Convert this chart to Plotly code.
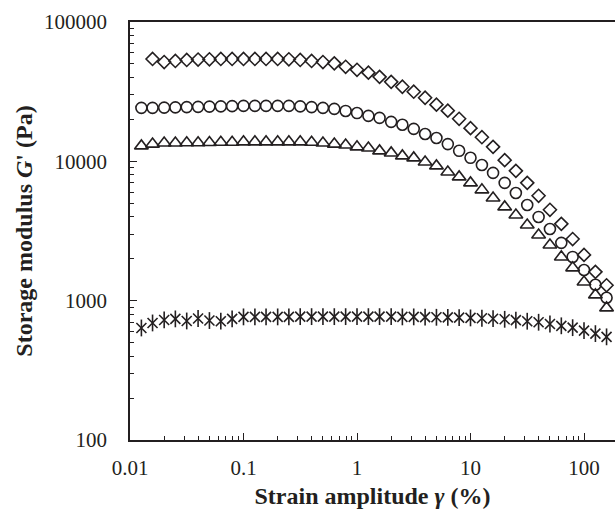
import plotly.graph_objects as go

strain = [0.0126, 0.0158, 0.02, 0.0251, 0.0316, 0.0398, 0.0501, 0.0631, 0.0794, 0.1,
          0.126, 0.158, 0.2, 0.251, 0.316, 0.398, 0.501, 0.631, 0.794, 1.0,
          1.26, 1.58, 2.0, 2.51, 3.16, 3.98, 5.01, 6.31, 7.94, 10.0,
          12.6, 15.8, 20.0, 25.1, 31.6, 39.8, 50.1, 63.1, 79.4, 100.0,
          126.0, 158.0]

g_diamond = [None, 54300, 51600, 52500, 53400, 53800, 54000, 54300, 54300, 54300,
             54300, 54300, 54300, 54000, 53400, 52500, 51600, 50500, 47700, 45400,
             43300, 40400, 37200, 34300, 31600, 28600, 25500, 23100, 20200, 17300,
             14900, 12700, 10200, 8550, 7010, 5660, 4490, 3560, 2770, 2130,
             1610, 1290]

g_circle = [24200, 24200, 24300, 24400, 24500, 24600, 24700, 24800, 24900, 25000,
            25000, 25000, 25000, 25000, 24800, 24500, 24200, 23800, 23000, 22200,
            21200, 20500, 19200, 18300, 17100, 15700, 14700, 13300, 11900, 10600,
            9420, 8260, 7000, 5930, 4860, 3990, 3270, 2600, 2060, 1660,
            1300, 1050]

g_triangle = [12900, 13300, 13550, 13550, 13600, 13600, 13650, 13700, 13700, 13800,
              13800, 13800, 13800, 13800, 13800, 13700, 13550, 13300, 13100, 12700,
              12470, 11880, 11490, 10940, 10580, 9900, 9270, 8390, 7730, 7000,
              6240, 5460, 4710, 4120, 3490, 2960, 2510, 2060, 1720, 1360,
              1100, 887]

g_star = [637, 692, 727, 740, 715, 745, 720, 712, 740, 765,
          765, 765, 765, 765, 768, 768, 768, 768, 768, 768,
          768, 768, 768, 765, 765, 762, 760, 758, 755, 752,
          748, 742, 735, 725, 712, 700, 680, 660, 640, 610,
          580, 550]

x_ticks = [0.01, 0.1, 1, 10, 100]
x_tick_text = ["0.01", "0.1", "1", "10", "100"]
y_ticks = [100, 1000, 10000, 100000]
y_tick_text = ["100", "1000", "10000", "100000"]

x_minor = [m * d for d in [0.01, 0.1, 1, 10, 100] for m in range(2, 10)]
y_minor = [m * d for d in [100, 1000, 10000] for m in range(2, 10)]

FONT = "Liberation Serif, Times New Roman, serif"
BLK = "#231f20"

fig = go.Figure()

def add(x, y, symbol, size, width=1.6):
    fig.add_trace(go.Scatter(
        x=x, y=y, mode="markers",
        marker=dict(symbol=symbol, size=size, color=BLK,
                    line=dict(color=BLK, width=width)),
        showlegend=False, hoverinfo="skip"))

add(strain, g_diamond, "diamond-open", 10)
add(strain, g_circle, "circle-open", 11)
add(strain, g_triangle, "triangle-up-open", 12)
add(strain, g_star, "x-thin-open", 10, 1.6)
add(strain, g_star, "line-ns-open", 12, 1.6)

fig.update_layout(
    width=615, height=511,
    margin=dict(l=130, r=0, t=22, b=71),
    paper_bgcolor="white", plot_bgcolor="white",
    font=dict(family=FONT, size=21, color=BLK),
)

fig.update_xaxes(
    type="log", range=[-2, 2.273],
    tickvals=x_ticks, ticktext=x_tick_text,
    ticks="inside", ticklen=7, tickwidth=1.3, tickcolor=BLK,
    minor=dict(tickvals=x_minor, ticks="inside", ticklen=4, tickwidth=1.2, tickcolor=BLK),
    showline=True, linecolor=BLK, linewidth=1.8, mirror=True,
    showgrid=False, zeroline=False, automargin=False,
    ticklabelstandoff=8,
    title=dict(text="<b>Strain amplitude <i>γ</i> (%)</b>", font=dict(size=24, family=FONT), standoff=8),
)

fig.update_yaxes(
    type="log", range=[2, 5],
    tickvals=y_ticks, ticktext=y_tick_text,
    ticks="inside", ticklen=7, tickwidth=1.3, tickcolor=BLK,
    minor=dict(tickvals=y_minor, ticks="inside", ticklen=4, tickwidth=1.2, tickcolor=BLK),
    showline=True, linecolor=BLK, linewidth=1.8, mirror=False,
    showgrid=False, zeroline=False, automargin=False,
    ticklabelstandoff=17,
    title=dict(text="<b>Storage modulus <i>G</i>' (Pa)</b>", font=dict(size=24, family=FONT), standoff=5),
)

fig.write_html("out.html", config={"displayModeBar": False},
               post_script="document.body.style.margin='0px';")
